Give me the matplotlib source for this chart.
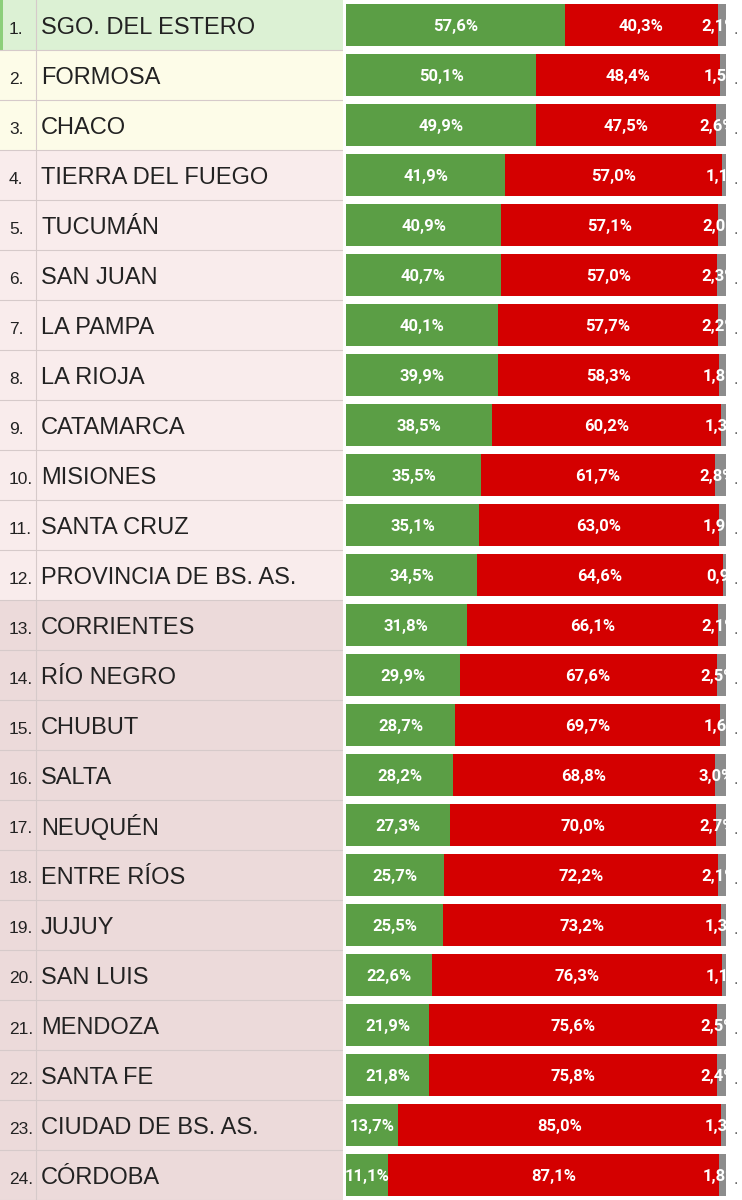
import matplotlib
matplotlib.use("Agg")
import matplotlib.pyplot as plt
from matplotlib.patches import Rectangle

provinces = ["SGO. DEL ESTERO", "FORMOSA", "CHACO", "TIERRA DEL FUEGO", "TUCUMÁN",
             "SAN JUAN", "LA PAMPA", "LA RIOJA", "CATAMARCA", "MISIONES", "SANTA CRUZ",
             "PROVINCIA DE BS. AS.", "CORRIENTES", "RÍO NEGRO", "CHUBUT", "SALTA",
             "NEUQUÉN", "ENTRE RÍOS", "JUJUY", "SAN LUIS", "MENDOZA", "SANTA FE",
             "CIUDAD DE BS. AS.", "CÓRDOBA"]
green_vals = [57.6, 50.1, 49.9, 41.9, 40.9, 40.7, 40.1, 39.9, 38.5, 35.5, 35.1, 34.5,
              31.8, 29.9, 28.7, 28.2, 27.3, 25.7, 25.5, 22.6, 21.9, 21.8, 13.7, 11.1]
red_vals = [40.3, 48.4, 47.5, 57.0, 57.1, 57.0, 57.7, 58.3, 60.2, 61.7, 63.0, 64.6,
            66.1, 67.6, 69.7, 68.8, 70.0, 72.2, 73.2, 76.3, 75.6, 75.8, 85.0, 87.1]
other_vals = [2.1, 1.5, 2.6, 1.1, 2.0, 2.3, 2.2, 1.8, 1.3, 2.8, 1.9, 0.9,
              2.1, 2.5, 1.6, 3.0, 2.7, 2.1, 1.3, 1.1, 2.5, 2.4, 1.3, 1.8]

c_green = "#5b9e45"
c_red = "#d40000"
c_gray = "#8c8c8c"

def fmt(v):
    return f"{v:.1f}%".replace(".", ",")

def row_bg(i):
    if i == 0:
        return "#dcf1d4"
    if i < 3:
        return "#fdfce8"
    if i < 12:
        return "#f9ecec"
    return "#ecdada"

n = len(provinces)
fig = plt.figure(figsize=(7.42, 12), dpi=100)

# left table
axl = fig.add_axes([0, 0, 343/742, 1])
axl.set_xlim(0, 343); axl.set_ylim(n, 0); axl.axis("off")
for i, name in enumerate(provinces):
    axl.add_patch(Rectangle((0, i), 343, 1, fc=row_bg(i), ec="none"))
    axl.plot([0, 343], [i + 1, i + 1], color="#d6caca", lw=0.8)
    axl.text(9, i + 0.58, f"{i+1}.", ha="left", va="center", fontsize=12.5,
             family="Liberation Sans", color="#222222")
    axl.text(41, i + 0.55, name, ha="left", va="center", fontsize=17,
             family="Liberation Sans", color="#222222")
axl.plot([36, 36], [0, n], color="#d6caca", lw=0.8)
axl.add_patch(Rectangle((0, 0), 3, 1, fc="#8ccf7a", ec="none"))

# bars
axb = fig.add_axes([346/742, 0, 396/742, 1])
axb.set_xlim(0, 104.2); axb.set_ylim(n - 0.5, -0.5); axb.axis("off")
y = list(range(n))
h = 0.84
axb.barh(y, green_vals, height=h, color=c_green)
axb.barh(y, red_vals, left=green_vals, height=h, color=c_red)
lefts = [g + r for g, r in zip(green_vals, red_vals)]
axb.barh(y, other_vals, left=lefts, height=h, color=c_gray)
for i in range(n):
    g, r, o = green_vals[i], red_vals[i], other_vals[i]
    axb.text(g / 2, i + 0.03, fmt(g), ha="center", va="center", color="white",
             fontsize=12, fontweight="bold", family="Roboto")
    axb.text(g + r / 2, i + 0.03, fmt(r), ha="center", va="center", color="white",
             fontsize=12, fontweight="bold", family="Roboto")
    t = axb.text(g + r - 4.3, i + 0.03, fmt(o), ha="left", va="center", color="white",
                 fontsize=12, fontweight="bold", family="Roboto")
    clip = Rectangle((g, i - h / 2), r + o, h, transform=axb.transData, fc="none", ec="none")
    axb.add_patch(clip)
    t.set_clip_path(clip)
    axb.text(g + r + o + 2.5, i + 0.1, ".", ha="center", va="center", color="#555555",
             fontsize=10)

fig.savefig("out.png", dpi=100, facecolor="white")
